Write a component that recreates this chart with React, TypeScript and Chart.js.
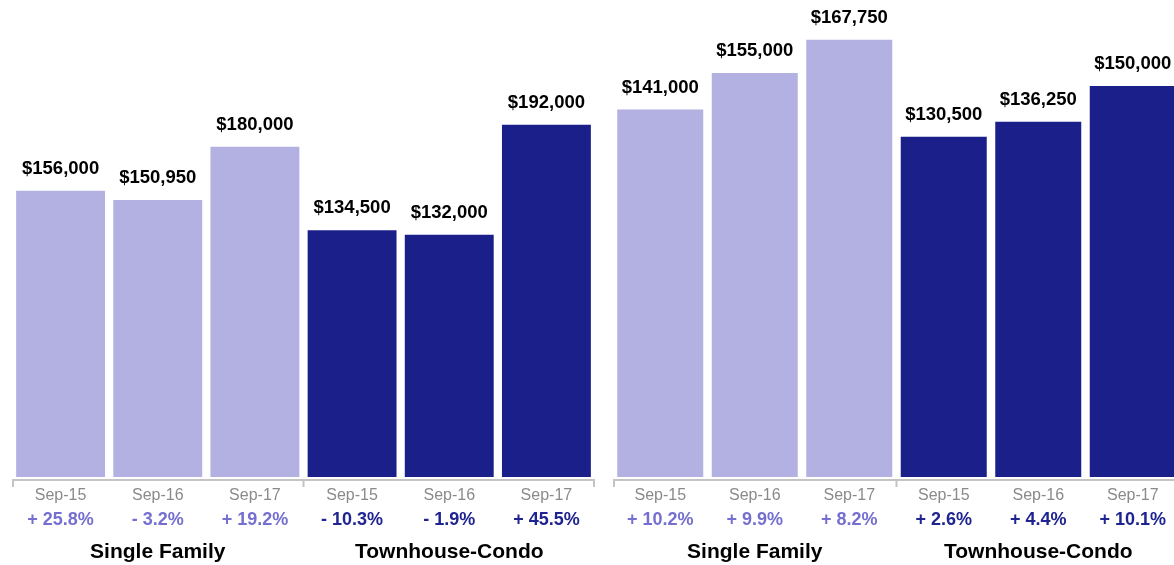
import React, { useEffect, useRef } from "react";
import { Chart, registerables } from "chart.js";

Chart.register(...registerables);

const categories = ["Sep-15", "Sep-16", "Sep-17", "Sep-15", "Sep-16", "Sep-17"];
const groups = ["Single Family", "Townhouse-Condo"];
const leftValues = [156000, 150950, 180000, 134500, 132000, 192000];
const rightValues = [141000, 155000, 167750, 130500, 136250, 150000];
const leftChanges = ["+ 25.8%", "- 3.2%", "+ 19.2%", "- 10.3%", "- 1.9%", "+ 45.5%"];
const rightChanges = ["+ 10.2%", "+ 9.9%", "+ 8.2%", "+ 2.6%", "+ 4.4%", "+ 10.1%"];

const LIGHT = "#b3b1e2";
const DARK = "#1b1f8a";
const LIGHT_TEXT = "#756fd0";
const DARK_TEXT = "#1f2490";
const barColors = [LIGHT, LIGHT, LIGHT, DARK, DARK, DARK];
const changeColors = [LIGHT_TEXT, LIGHT_TEXT, LIGHT_TEXT, DARK_TEXT, DARK_TEXT, DARK_TEXT];

const FONT = "'Liberation Sans', Arial, Helvetica, sans-serif";

function makeLabelPlugin(changes: string[]) {
  return {
    id: "labels",
    afterDraw(chart: any) {
      const ctx = chart.ctx;
      const meta = chart.getDatasetMeta(0);
      const xs = chart.scales.x;
      const area = chart.chartArea;
      const values = chart.data.datasets[0].data as number[];
      ctx.save();
      // value labels
      ctx.font = `bold 18.5px ${FONT}`;
      ctx.fillStyle = "#000";
      ctx.textAlign = "center";
      ctx.textBaseline = "middle";
      meta.data.forEach((bar: any, i: number) => {
        ctx.fillText("$" + values[i].toLocaleString("en-US"), bar.x, bar.y - 22);
      });
      // axis line
      const ly = area.bottom + 3;
      ctx.strokeStyle = "#c4c4c4";
      ctx.lineWidth = 2;
      ctx.beginPath();
      ctx.moveTo(xs.left, ly);
      ctx.lineTo(xs.right, ly);
      const mid = (xs.getPixelForValue(2) + xs.getPixelForValue(3)) / 2;
      [xs.left + 1, mid, xs.right - 1].forEach((x: number) => {
        ctx.moveTo(x, ly);
        ctx.lineTo(x, ly + 7);
      });
      ctx.stroke();
      // category labels
      ctx.font = `16px ${FONT}`;
      ctx.fillStyle = "#8a8a8a";
      categories.forEach((c, i) => {
        ctx.fillText(c, xs.getPixelForValue(i), area.bottom + 19);
      });
      // change labels
      ctx.font = `bold 18px ${FONT}`;
      changes.forEach((c, i) => {
        ctx.fillStyle = changeColors[i];
        ctx.fillText(c, xs.getPixelForValue(i), area.bottom + 43);
      });
      // group labels
      ctx.font = `bold 21px ${FONT}`;
      ctx.fillStyle = "#000";
      ctx.fillText(groups[0], (xs.left + mid) / 2, area.bottom + 75);
      ctx.fillText(groups[1], (mid + xs.right) / 2, area.bottom + 75);
      ctx.restore();
    },
  };
}

function Panel(props: { values: number[]; changes: string[]; yMax: number; barPct: number; left: number; width: number }) {
  const ref = useRef<HTMLCanvasElement>(null);
  useEffect(() => {
    if (!ref.current) return;
    const chart = new Chart(ref.current, {
      type: "bar",
      data: {
        labels: categories,
        datasets: [
          {
            data: props.values,
            backgroundColor: barColors,
            borderWidth: 0,
            barPercentage: props.barPct,
            categoryPercentage: 1,
          },
        ],
      },
      options: {
        responsive: false,
        animation: false,
        devicePixelRatio: 1,
        layout: { padding: { top: 0, bottom: 88, left: 0, right: 0 } },
        scales: {
          x: { display: false },
          y: { display: false, min: 0, max: props.yMax },
        },
        plugins: { legend: { display: false }, tooltip: { enabled: false } },
      },
      plugins: [makeLabelPlugin(props.changes)],
    } as any);
    return () => chart.destroy();
  }, []);
  return (
    <canvas
      ref={ref}
      width={props.width}
      height={565}
      style={{ position: "absolute", left: props.left, top: 0, width: props.width, height: 565 }}
    />
  );
}

export default function App() {
  return (
    <div
      style={{
        position: "fixed",
        left: 0,
        top: 0,
        width: 1174,
        height: 565,
        overflow: "hidden",
        background: "#fff",
      }}
    >
      <Panel values={leftValues} changes={leftChanges} yMax={260000} barPct={0.915} left={12} width={583} />
      <Panel values={rightValues} changes={rightChanges} yMax={183000} barPct={0.91} left={613} width={567} />
    </div>
  );
}
